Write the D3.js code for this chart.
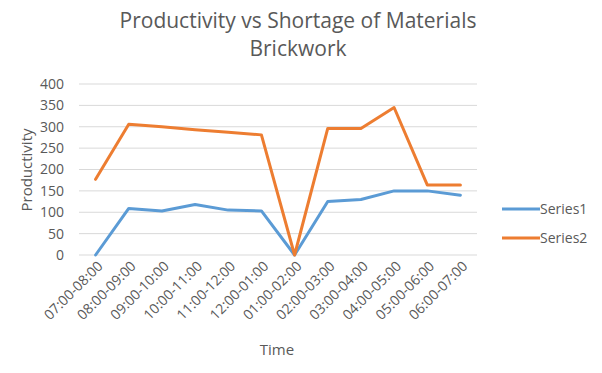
<!DOCTYPE html>
<html><head><meta charset="utf-8">
<script src="https://cdn.jsdelivr.net/npm/d3@7"></script>
<style>body{margin:0;background:#fff;} text{font-family:"Open Sans",sans-serif;}</style>
</head><body><svg id="c" width="602" height="373"></svg>
<script>
const categories = ["07:00-08:00","08:00-09:00","09:00-10:00","10:00-11:00","11:00-12:00","12:00-01:00","01:00-02:00","02:00-03:00","03:00-04:00","04:00-05:00","05:00-06:00","06:00-07:00"];
const series1 = [0,109,103,118,105,103,0,125,130,150,150,140];
const series2 = [177,306,300,293,287,281,0,296,296,345,164,164];
const yTicks = [0,50,100,150,200,250,300,350,400];
const seriesNames = ["Series1","Series2"];
const colors = ["#5B9BD5","#ED7D31"];

const svg = d3.select("#c");
const pLeft = 79, pRight = 477, pTop = 84, pBottom = 255;
const x = d3.scaleBand().domain(categories).range([pLeft,pRight]);
const y = d3.scaleLinear().domain([0,400]).range([pBottom,pTop]);

// gridlines
svg.append("g").selectAll("line").data(yTicks).join("line")
  .attr("x1",pLeft).attr("x2",pRight).attr("y1",d=>y(d)).attr("y2",d=>y(d))
  .attr("stroke","#d9d9d9").attr("stroke-width",1);

// y axis labels
const yAxis = d3.axisLeft(y).tickValues(yTicks).tickSize(0).tickPadding(0);
const ya = svg.append("g").attr("transform",`translate(${pLeft-15},0)`).call(yAxis);
ya.select(".domain").remove();
ya.selectAll("text").attr("fill","#595959").style("font-size","14px").style("font-family","'Open Sans',sans-serif");

// x axis labels
const xAxis = d3.axisBottom(x).tickSize(0).tickPadding(0);
const xa = svg.append("g").attr("transform",`translate(0,${pBottom})`).call(xAxis);
xa.select(".domain").remove();
xa.selectAll("text").attr("fill","#595959").style("font-size","14px").style("font-family","'Open Sans',sans-serif")
  .attr("text-anchor","end").attr("dy",0).attr("y",0)
  .attr("transform","translate(8,12) rotate(-45)");

// lines
const line = d3.line().x((d,i)=>x(categories[i])+x.bandwidth()/2).y(d=>y(d));
[series1,series2].forEach((s,k)=>{
  svg.append("path").datum(s).attr("d",line).attr("fill","none")
    .attr("stroke",colors[k]).attr("stroke-width",3).attr("stroke-linejoin","round").attr("stroke-linecap","round");
});

// title
svg.append("text").attr("x",298).attr("y",28).attr("text-anchor","middle").attr("fill","#595959").style("font-size","21px").text("Productivity vs Shortage of Materials");
svg.append("text").attr("x",298).attr("y",56).attr("text-anchor","middle").attr("fill","#595959").style("font-size","21px").text("Brickwork");

// axis titles
svg.append("text").attr("transform","translate(32,170) rotate(-90)").attr("text-anchor","middle").attr("fill","#595959").style("font-size","15px").text("Productivity");
svg.append("text").attr("x",277).attr("y",355).attr("text-anchor","middle").attr("fill","#595959").style("font-size","15px").text("Time");

// legend
const lg = svg.append("g");
seriesNames.forEach((n,k)=>{
  const ly = 209 + k*29;
  lg.append("line").attr("x1",502).attr("x2",540).attr("y1",ly).attr("y2",ly).attr("stroke",colors[k]).attr("stroke-width",3);
  lg.append("text").attr("x",540).attr("y",ly+5).attr("fill","#595959").style("font-size","14px").text(n);
});
</script></body></html>
